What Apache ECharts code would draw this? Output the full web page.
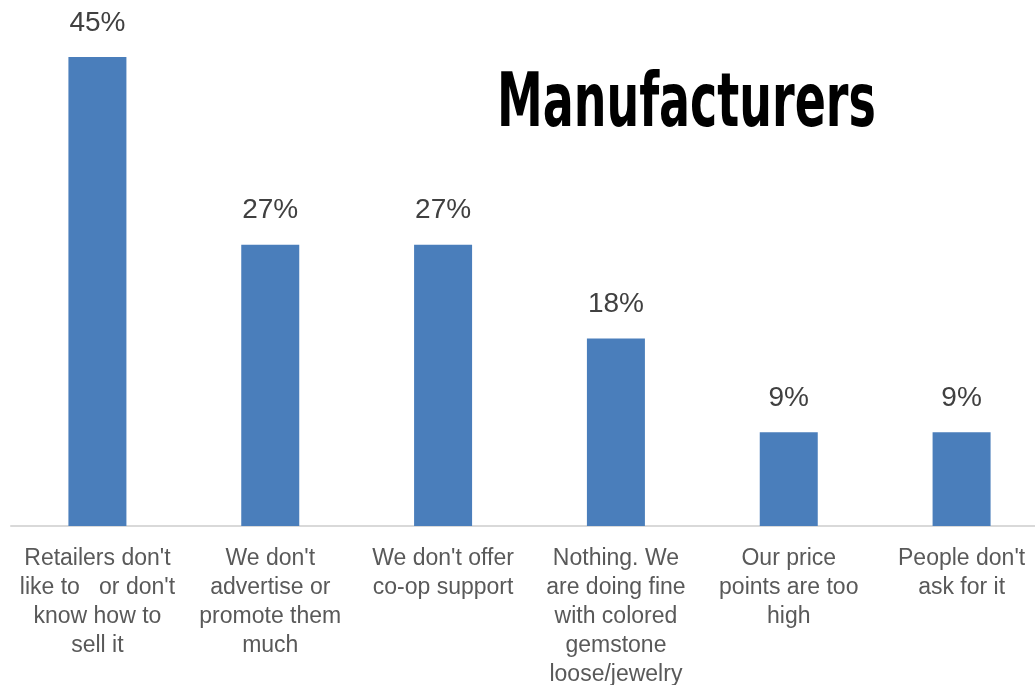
<!DOCTYPE html>
<html>
<head>
<meta charset="utf-8">
<script src="https://cdn.jsdelivr.net/npm/echarts@6/dist/echarts.min.js"></script>
<style>
  html, body { margin: 0; padding: 0; background: #ffffff; }
  #chart { width: 1035px; height: 685px; }
</style>
</head>
<body>
<div id="chart"></div>
<script>
// Reasons given by manufacturers, share of respondents (%)
const categories = [
  "Retailers don't\nlike to   or don't\nknow how to\nsell it",
  "We don't\nadvertise or\npromote them\nmuch",
  "We don't offer\nco-op support",
  "Nothing. We\nare doing fine\nwith colored\ngemstone\nloose/jewelry",
  "Our price\npoints are too\nhigh",
  "People don't\nask for it"
];
const values = [45, 27, 27, 18, 9, 9];
const titleText = 'Manufacturers';

const chart = echarts.init(document.getElementById('chart'));
chart.setOption({
  animation: false,
  backgroundColor: '#ffffff',
  // plot area runs a little past the right edge, so the last slot is clipped
  grid: {
    left: 11, width: 1037, top: 5, bottom: 159,
    containLabel: false,
    outerBoundsMode: 'none'
  },
  xAxis: {
    type: 'category',
    data: categories,
    axisTick: { show: false },
    axisLine: { lineStyle: { color: '#d9d9d9', width: 2 } },
    axisLabel: {
      interval: 0,
      margin: 18,
      color: '#595959',
      fontFamily: 'Liberation Sans',
      fontSize: 23,
      lineHeight: 29,
      align: 'center'
    }
  },
  yAxis: {
    type: 'value',
    min: 0,
    max: 50,
    show: false,
    splitLine: { show: false }
  },
  series: [{
    type: 'bar',
    data: values,
    barWidth: 58,
    itemStyle: { color: '#4a7ebb' },
    label: {
      show: true,
      position: 'top',
      distance: 20,
      formatter: '{c}%',
      color: '#404040',
      fontFamily: 'Liberation Sans',
      fontSize: 28
    }
  }],
  graphic: [{
    type: 'text',
    left: 497,
    top: 70,
    scaleX: 0.69,
    style: {
      text: titleText,
      fill: '#000000',
      font: 'bold 74px "DejaVu Sans Condensed", sans-serif'
    }
  }]
});
</script>
</body>
</html>
